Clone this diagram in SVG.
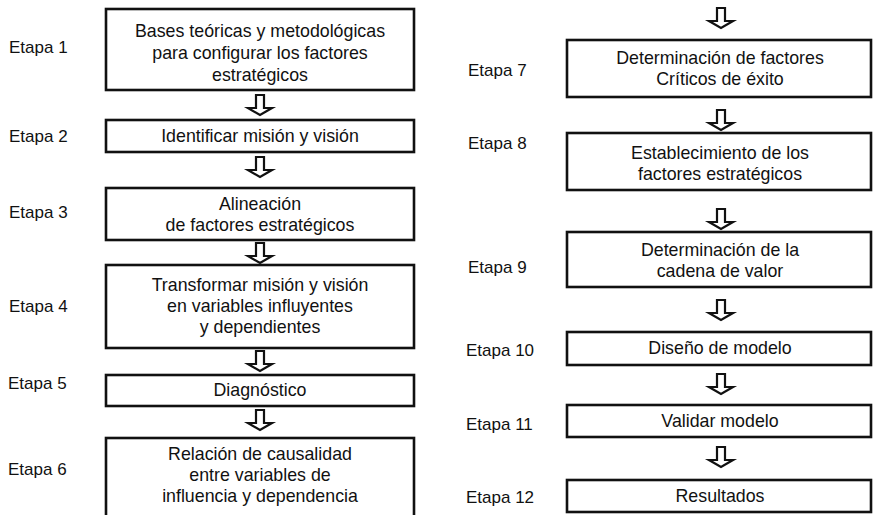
<svg xmlns="http://www.w3.org/2000/svg" width="874" height="515" viewBox="0 0 874 515">
  <style>
    .box { fill: #ffffff; stroke: #111111; stroke-width: 2.6; }
    .txt { font-family: "Liberation Sans", Arial, sans-serif; font-size: 17.8px; fill: #111111; text-anchor: middle; }
    .lbl { font-family: "Liberation Sans", Arial, sans-serif; font-size: 17px; fill: #111111; }
    .arrow { fill: #ffffff; stroke: #111111; stroke-width: 2.2; stroke-linejoin: miter; }
  </style>
  <defs>
    <!-- hollow block arrow, anchored at the top centre of its shaft -->
    <path id="down" class="arrow" d="M -4,0 L 4,0 L 4,13 L 12,13 L 0,20 L -12,13 L -4,13 Z"/>
  </defs>
  <rect width="874" height="515" fill="#ffffff"/>

  <!-- stage labels -->
  <g id="labels">
    <text class="lbl" x="9" y="53">Etapa 1</text>
    <text class="lbl" x="9" y="142">Etapa 2</text>
    <text class="lbl" x="9" y="218">Etapa 3</text>
    <text class="lbl" x="9" y="312">Etapa 4</text>
    <text class="lbl" x="8" y="389">Etapa 5</text>
    <text class="lbl" x="8" y="475">Etapa 6</text>
    <text class="lbl" x="468" y="76">Etapa 7</text>
    <text class="lbl" x="468" y="149">Etapa 8</text>
    <text class="lbl" x="468" y="273">Etapa 9</text>
    <text class="lbl" x="466" y="356">Etapa 10</text>
    <text class="lbl" x="466" y="430">Etapa 11</text>
    <text class="lbl" x="466" y="503">Etapa 12</text>
  </g>

  <!-- connectors -->
  <g id="connectors">
    <use href="#down" x="260" y="95"/>
    <use href="#down" x="260" y="157"/>
    <use href="#down" x="260" y="243"/>
    <use href="#down" x="260" y="351"/>
    <use href="#down" x="260" y="410"/>
    <use href="#down" x="721" y="8"/>
    <use href="#down" x="721" y="110"/>
    <use href="#down" x="721" y="209"/>
    <use href="#down" x="721" y="300"/>
    <use href="#down" x="721" y="374"/>
    <use href="#down" x="721" y="447"/>
  </g>

  <!-- left column -->
  <g id="stage1">
    <rect class="box" x="106" y="9" width="308" height="81"/>
    <text class="txt" x="260" y="37">Bases teóricas y metodológicas</text>
    <text class="txt" x="260" y="59">para configurar los factores</text>
    <text class="txt" x="260" y="81">estratégicos</text>
  </g>
  <g id="stage2">
    <rect class="box" x="106" y="120" width="308" height="32"/>
    <text class="txt" x="260" y="142">Identificar misión y visión</text>
  </g>
  <g id="stage3">
    <rect class="box" x="106" y="188" width="308" height="52"/>
    <text class="txt" x="260" y="210">Alineación</text>
    <text class="txt" x="260" y="231">de factores estratégicos</text>
  </g>
  <g id="stage4">
    <rect class="box" x="106" y="265" width="308" height="83"/>
    <text class="txt" x="260" y="291">Transformar misión y visión</text>
    <text class="txt" x="260" y="312">en variables influyentes</text>
    <text class="txt" x="260" y="333">y dependientes</text>
  </g>
  <g id="stage5">
    <rect class="box" x="106" y="375" width="308" height="31"/>
    <text class="txt" x="260" y="396">Diagnóstico</text>
  </g>
  <g id="stage6">
    <rect class="box" x="106" y="438" width="308" height="90"/>
    <text class="txt" x="260" y="460">Relación de causalidad</text>
    <text class="txt" x="260" y="481">entre variables de</text>
    <text class="txt" x="260" y="502">influencia y dependencia</text>
  </g>

  <!-- right column -->
  <g id="stage7">
    <rect class="box" x="567" y="40" width="304" height="57"/>
    <text class="txt" x="720" y="64">Determinación de factores</text>
    <text class="txt" x="720" y="85">Críticos de éxito</text>
  </g>
  <g id="stage8">
    <rect class="box" x="567" y="133" width="304" height="57"/>
    <text class="txt" x="720" y="159">Establecimiento de los</text>
    <text class="txt" x="720" y="180">factores estratégicos</text>
  </g>
  <g id="stage9">
    <rect class="box" x="567" y="232" width="304" height="55"/>
    <text class="txt" x="720" y="256">Determinación de la</text>
    <text class="txt" x="720" y="277">cadena de valor</text>
  </g>
  <g id="stage10">
    <rect class="box" x="567" y="332" width="304" height="33"/>
    <text class="txt" x="720" y="354">Diseño de modelo</text>
  </g>
  <g id="stage11">
    <rect class="box" x="567" y="405" width="304" height="32"/>
    <text class="txt" x="720" y="427">Validar modelo</text>
  </g>
  <g id="stage12">
    <rect class="box" x="567" y="480" width="304" height="32"/>
    <text class="txt" x="720" y="502">Resultados</text>
  </g>
</svg>
